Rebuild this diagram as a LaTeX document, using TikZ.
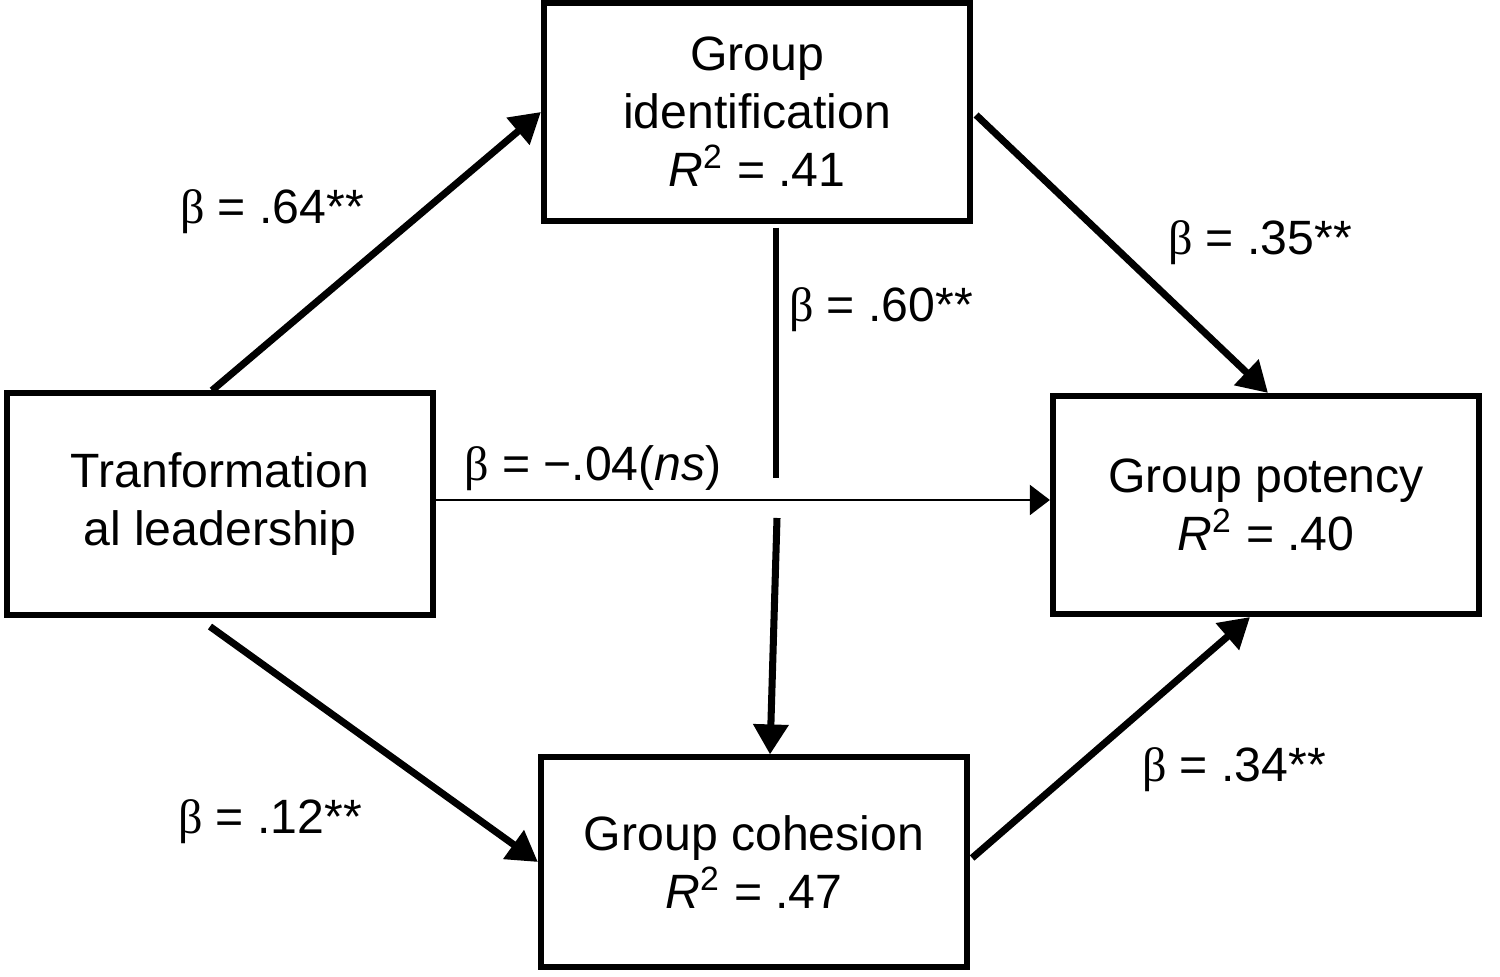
\documentclass[tikz,border=0pt]{standalone}
\usepackage{fontspec}
\setmainfont{Liberation Sans}
\newfontfamily\grkfont{Liberation Serif}
\usetikzlibrary{arrows.meta,positioning,calc}
\newcommand{\bet}{{\grkfont β}}

\begin{document}
\begin{tikzpicture}[x=0.01cm,y=-0.01cm,
    box/.style={draw, line width=1.7pt, minimum width=4.26cm, align=center, inner sep=0pt,
        font=\fontsize{13.7}{16.5}\selectfont},
    coef/.style={font=\fontsize{13.7}{16.5}\selectfont, inner sep=0pt},
    path/.style={line width=2pt, -{Triangle[length=3mm,width=3.4mm]}},
    direct/.style={line width=0.6pt, -{Triangle[length=2mm,width=3mm]}}]
    \useasboundingbox (0,0) rectangle (1500,977);
    % Boxes
    \node[box, minimum height=2.17cm] (GI) at (757,112) {Group\\identification\\\textit{R}\textsuperscript{2} = .41};
    \node[box, minimum height=2.21cm] (TL) at (220,504) {Tranformation\\al leadership};
    \node[box, minimum height=2.18cm] (GP) at (1266,505) {Group potency\\\textit{R}\textsuperscript{2} = .40};
    \node[box, minimum height=2.09cm] (GC) at (754,862) {Group cohesion\\\textit{R}\textsuperscript{2} = .47};
    % Gap in the vertical path
    \coordinate (gapA) at (776,478);
    \coordinate (gapB) at (777,518);
    % Paths
    \draw[path] ($(TL.north)+(-8,0)$) -- (GI.west);
    \draw[path] ($(GI.east)+(3,3)$) -- ($(GP.north)+(2,0)$);
    \draw[line width=1.7pt] ($(GI.south)+(19,4)$) -- (gapA);
    \draw[path] (gapB) -- ($(GC.north)+(16,0)$);
    \draw[direct] ($(TL.east)+(0,-4)$) -- ($(TL.east -| GP.west)+(0,-4)$);
    \draw[path] ($(TL.south)+(-10,9)$) -- (GC.west);
    \draw[path] ($(GC.east)+(2,-4)$) -- ($(GP.south)+(-16,0)$);
    % Coefficients
    \node[coef] (b1) at (272,212) {\bet{} = .64**};
    \node[coef] (b2) at (1260,243) {\bet{} = .35**};
    \node[coef] (b3) at (881,310) {\bet{} = .60**};
    \node[coef] (b4) at (593,468) {\bet{} = −.04(\textit{ns})};
    \node[coef] (b5) at (270,822) {\bet{} = .12**};
    \node[coef] (b6) at (1234,770) {\bet{} = .34**};
\end{tikzpicture}
\end{document}
